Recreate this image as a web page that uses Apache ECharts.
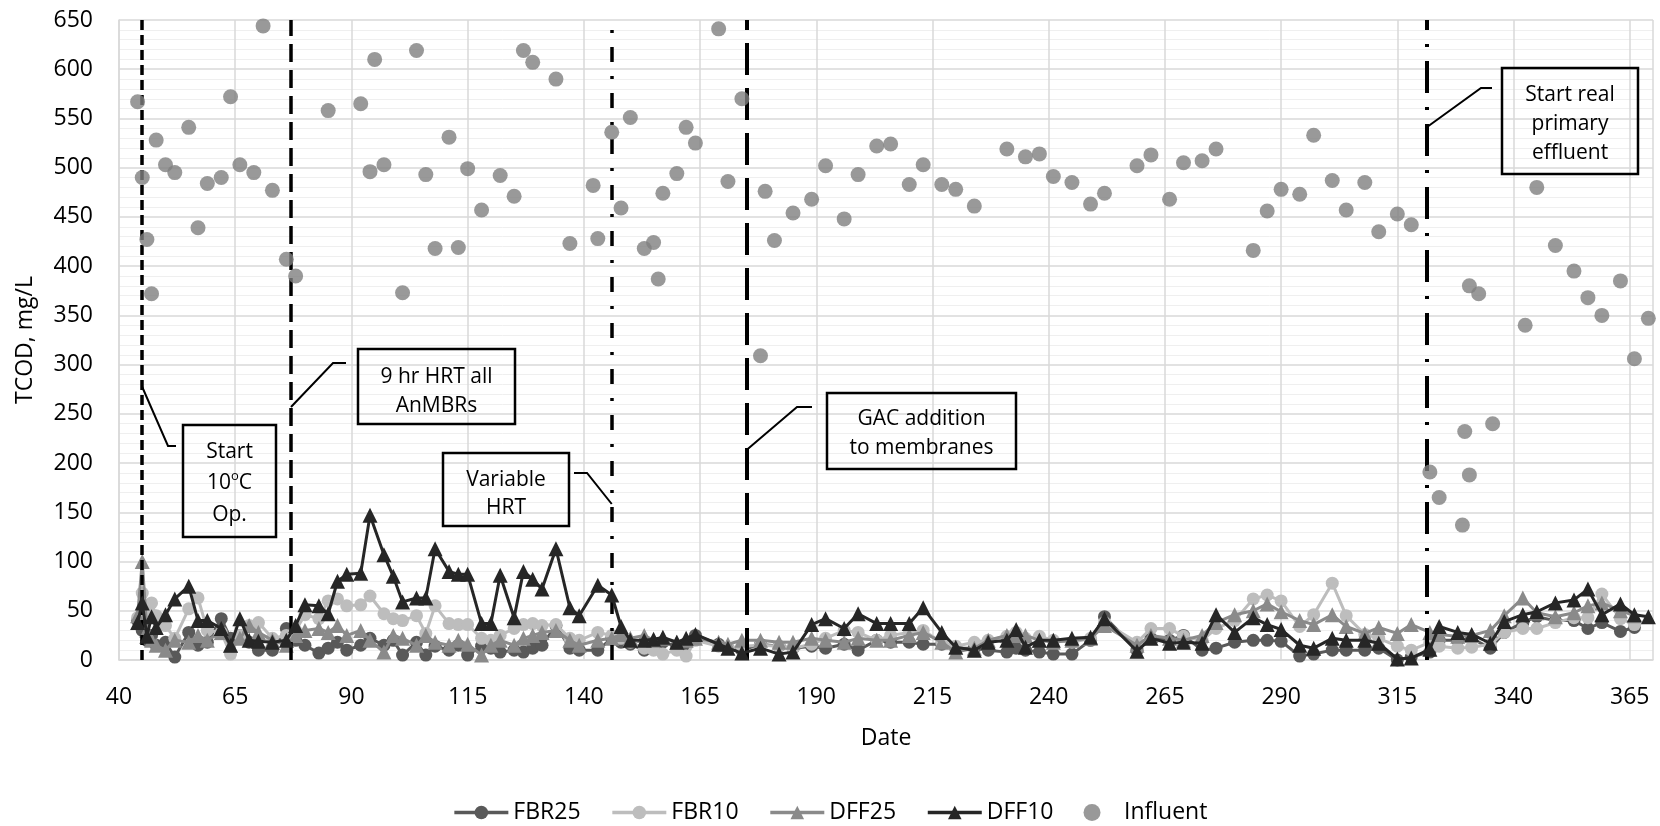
<!DOCTYPE html>
<html><head><meta charset="utf-8">
<script src="https://cdn.jsdelivr.net/npm/echarts@6/dist/echarts.min.js"></script>
<style>html,body{margin:0;padding:0;background:#fff}#c{width:1660px;height:826px}</style>
</head><body><div id="c"></div><script>
const FONT = '"Open Sans", "Liberation Sans", sans-serif';

// ---- data ----
const effluentDays = [
  44, 45, 46, 47, 48, 50, 52, 55, 57, 59,
  62, 64, 66, 68, 70, 73, 76, 78, 80, 83,
  85, 87, 89, 92, 94, 97, 99, 101, 104, 106,
  108, 111, 113, 115, 118, 120, 122, 125, 127, 129,
  131, 134, 137, 139, 143, 146, 148, 150, 153, 155,
  157, 160, 162, 164, 169, 171, 174, 178, 182, 185,
  189, 192, 196, 199, 203, 206, 210, 213, 217, 220,
  224, 227, 231, 233, 235, 238, 241, 245, 249, 252,
  259, 262, 266, 269, 273, 276, 280, 284, 287, 290,
  294, 297, 301, 304, 308, 311, 315, 318, 322, 324,
  328, 331, 335, 338, 342, 345, 349, 353, 356, 359,
  363, 366, 369
];
const fbr25 = [
  40, 30, 20, 25, 15, 18, 3, 28, 15, 18,
  42, 22, 25, 18, 10, 10, 32, 20, 15, 7,
  12, 18, 10, 15, 22, 15, 20, 5, 18, 5,
  14, 10, 15, 5, 14, 12, 8, 10, 8, 12,
  15, 35, 12, 10, 10, 22, 18, 16, 10, 12,
  18, 14, 15, 25, 16, 12, 10, 16, 14, 12,
  14, 12, 16, 10, 20, 18, 18, 16, 16, 12,
  12, 10, 8, 12, 10, 8, 6, 6, 20, 44,
  10, 22, 20, 25, 10, 12, 18, 20, 20, 19,
  4, 6, 10, 10, 10, 12, 0, 3, 8, 20,
  20, 22, 12, 28, 38, 44, 40, 40, 32, 38,
  29, 33, null
];
const fbr10 = [
  43, 68, 50, 58, 45, 35, 22, 52, 63, 30,
  28, 6, 25, 35, 38, 22, 25, 30, 46, 42,
  60, 62, 55, 56, 65, 47, 42, 40, 45, 27,
  55, 37, 36, 36, 22, 20, 25, 32, 36, 37,
  35, 36, 22, 20, 28, 25, 22, 18, 12, 10,
  6, 10, 4, 20, 14, 12, 14, 15, 14, 12,
  16, 22, 30, 28, 20, 25, 28, 30, 18, 14,
  18, 20, 24, 28, 22, 24, 20, 18, 22, 38,
  18, 32, 32, 24, 20, 32, 40, 62, 66, 60,
  34, 46, 78, 45, 26, 22, 14, 10, 18, 14,
  12, 13, 16, 28, 32, 32, 38, 43, 43, 67,
  42, 36, null
];
const dff25 = [
  45, 100, 30, 20, 15, 10, 20, 18, 25, 20,
  28, 15, 22, 35, 28, 20, 15, 25, 30, 32,
  28, 35, 25, 30, 20, 8, 25, 22, 15, 25,
  18, 15, 20, 16, 5, 15, 20, 15, 22, 25,
  28, 30, 20, 15, 20, 22, 26, 22, 25, 20,
  22, 18, 20, 22, 18, 16, 20, 20, 18, 18,
  22, 20, 18, 22, 20, 20, 25, 28, 18, 8,
  12, 20, 25, 25, 25, 20, 18, 20, 22, 35,
  15, 25, 22, 20, 25, 38, 46, 50, 57, 49,
  40, 36, 46, 34, 27, 33, 27, 36, 28, 26,
  24, 25, 30, 45, 63, 48, 44, 48, 55, 58,
  50, 45, null
];
const dff10 = [
  38, 58, 24, 44, 33, 46, 62, 75, 40, 40,
  32, 15, 42, 20, 19, 18, 20, 35, 56, 55,
  47, 80, 87, 88, 147, 107, 85, 59, 63, 63,
  113, 90, 87, 87, 37, 37, 86, 43, 90, 82,
  72, 113, 53, 45, 76, 66, 34, 20, 20, 21,
  23, 18, 22, 26, 16, 12, 7, 12, 6, 8,
  36, 42, 32, 47, 37, 37, 37, 53, 28, 13,
  10, 18, 20, 31, 13, 20, 20, 22, 23, 42,
  9, 22, 17, 18, 17, 46, 28, 43, 36, 31,
  15, 12, 22, 20, 20, 17, 1, 2, 11, 34,
  28, 26, 17, 39, 46, 49, 58, 61, 72, 46,
  57, 46, 44
];
const influentDays = [
  44, 45, 46, 47, 48, 50, 52, 55, 57, 59,
  62, 64, 66, 69, 71, 73, 76, 78, 85, 92,
  94, 95, 97, 101, 104, 106, 108, 111, 113, 115,
  118, 122, 125, 127, 129, 134, 137, 142, 143, 146,
  148, 150, 153, 155, 156, 157, 160, 162, 164, 169,
  171, 174, 178, 179, 181, 185, 189, 192, 196, 199,
  203, 206, 210, 213, 217, 220, 224, 231, 235, 238,
  241, 245, 249, 252, 259, 262, 266, 269, 273, 276,
  284, 287, 290, 294, 297, 301, 304, 308, 311, 315,
  318, 322, 324, 329, 329.5, 330.5, 330.5, 332.5, 335.5, 342.5,
  345, 349, 353, 356, 359, 363, 366, 369
];
const influent = [
  567, 490, 427, 372, 528, 503, 495, 541, 439, 484,
  490, 572, 503, 495, 644, 477, 407, 390, 558, 565,
  496, 610, 503, 373, 619, 493, 418, 531, 419, 499,
  457, 492, 471, 619, 607, 590, 423, 482, 428, 536,
  459, 551, 418, 424, 387, 474, 494, 541, 525, 641,
  486, 570, 309, 476, 426, 454, 468, 502, 448, 493,
  522, 524, 483, 503, 483, 478, 461, 519, 511, 514,
  491, 485, 463, 474, 502, 513, 468, 505, 507, 519,
  416, 456, 478, 473, 533, 487, 457, 485, 435, 453,
  442, 191, 165, 137, 232, 188, 380, 372, 240, 340,
  480, 421, 395, 368, 350, 385, 306, 347
];
const eventDays = [45, 77, 146, 175, 321.4];
const seriesNames = ['FBR25', 'FBR10', 'DFF25', 'DFF10', 'Influent'];

// ---- styles ----
const eventStyles = [
  { width: 3.5, type: [10, 5] },
  { width: 3.5, type: [18, 8] },
  { width: 3.5, type: [15, 14, 3, 14] },
  { width: 4, type: [32, 13] },
  { width: 4, type: [32, 14, 3, 14] }
];
const lineColors = ['#595959', '#bdbdbd', '#8a8a8a', '#262626'];
const lineSymbols = ['circle', 'circle', 'triangle', 'triangle'];
const lineData = [fbr25, fbr10, dff25, dff10];

const chart = echarts.init(document.getElementById('c'), null, { renderer: 'canvas' });

const series = lineData.map((arr, k) => ({
  name: seriesNames[k],
  type: 'line',
  data: effluentDays.map((d, i) => [d, arr[i]]),
  connectNulls: false,
  showAllSymbol: true,
  symbol: lineSymbols[k],
  symbolSize: k < 2 ? 13 : 15,
  color: lineColors[k],
  lineStyle: { color: lineColors[k], width: 3 },
  itemStyle: { color: lineColors[k] },
  emphasis: { disabled: true },
  animation: false,
  z: 2 + k
}));
series.push({
  name: 'Influent',
  type: 'scatter',
  data: influentDays.map((d, i) => [d, influent[i]]),
  symbol: 'circle',
  symbolSize: 15,
  color: '#7f7f7f',
  itemStyle: { color: '#7f7f7f' },
  emphasis: { disabled: true },
  animation: false,
  z: 7,
  markLine: {
    silent: true,
    symbol: ['none', 'none'],
    label: { show: false },
    animation: false,
    emphasis: { disabled: true },
    data: eventDays.map((d, i) => ({
      xAxis: d,
      lineStyle: { color: '#000', width: eventStyles[i].width, type: eventStyles[i].type, cap: 'butt' }
    }))
  }
});

const option = {
  animation: false,
  backgroundColor: '#fff',
  textStyle: { fontFamily: FONT },
  grid: { left: 119, right: 7, top: 20, bottom: 166, containLabel: false },
  xAxis: {
    type: 'value', min: 40, max: 370, interval: 25,
    name: 'Date', nameLocation: 'middle', nameGap: 67,
    nameTextStyle: { fontSize: 23, color: '#000', fontFamily: FONT },
    axisLine: { show: true, lineStyle: { color: '#d9d9d9', width: 1.5 } },
    axisTick: { show: false },
    axisLabel: { fontSize: 23, color: '#000', margin: 26, fontFamily: FONT, showMaxLabel: false },
    splitLine: { show: true, lineStyle: { color: '#d9d9d9', width: 1.5 } }
  },
  yAxis: {
    type: 'value', min: 0, max: 650, interval: 50,
    name: 'TCOD, mg/L', nameLocation: 'middle', nameGap: 82,
    nameTextStyle: { fontSize: 23, color: '#000', fontFamily: FONT },
    axisLine: { show: true, lineStyle: { color: '#d9d9d9', width: 1.5 } },
    axisTick: { show: false },
    axisLabel: { fontSize: 23, color: '#000', margin: 26, fontFamily: FONT },
    splitLine: { show: true, lineStyle: { color: '#d9d9d9', width: 1.5 } },
    minorTick: { show: false, splitNumber: 5 },
    minorSplitLine: { show: true, lineStyle: { color: '#efefef', width: 1 } }
  },
  legend: {
    data: seriesNames,
    left: 'center', top: 796,
    itemWidth: 54, itemHeight: 17, itemGap: 30,
    lineStyle: { width: 3.5 },
    textStyle: { fontSize: 23, color: '#000', fontFamily: FONT },
    selectedMode: false
  },
  series: series
};
chart.setOption(option);

// ---- annotations (boxes + callouts), anchored to the event lines ----
const px = d => chart.convertToPixel({ xAxisIndex: 0 }, d);
const notes = [
  { ev: 0, box: [183, 425, 93, 112], cx: 229.5, lines: [[452, 'Start'], [483, '{n|10}{s|o}{n|C}'], [515, 'Op.']], callout: [[null, 387], [168, 446], [176, 446]] },
  { ev: 1, box: [358, 349, 157, 75], cx: 436.5, lines: [[377, '9 hr HRT all'], [406, 'AnMBRs']], callout: [[null, 407], [333, 363], [346, 363]] },
  { ev: 2, box: [443, 453, 126, 73], cx: 506, lines: [[480, 'Variable'], [508, 'HRT']], callout: [[574, 473], [587, 473], [null, 504]] },
  { ev: 3, box: [827, 393, 189, 76], cx: 921.5, lines: [[419, 'GAC addition'], [448, 'to membranes']], callout: [[null, 450], [797, 407], [812, 407]] },
  { ev: 4, box: [1502, 68, 136, 106], cx: 1570, lines: [[95, 'Start real'], [124, 'primary'], [153, 'effluent']], callout: [[null, 127], [1481, 88], [1492, 88]] }
];
const graphics = [];
notes.forEach(n => {
  const lx = px(eventDays[n.ev]);
  graphics.push({
    type: 'rect', z: 100, silent: true,
    shape: { x: n.box[0], y: n.box[1], width: n.box[2], height: n.box[3] },
    style: { fill: 'none', stroke: '#000', lineWidth: 2.5 }
  });
  graphics.push({
    type: 'polyline', z: 100, silent: true,
    shape: { points: n.callout.map(p => [p[0] === null ? lx : p[0], p[1]]) },
    style: { fill: null, stroke: '#000', lineWidth: 2 }
  });
  n.lines.forEach(l => {
    graphics.push({
      type: 'text', z: 101, silent: true,
      style: {
        x: n.cx, y: l[0], text: l[1],
        fill: '#000', fontSize: 21, fontFamily: FONT,
        align: 'center', verticalAlign: 'middle',
        textAlign: 'center', textVerticalAlign: 'middle',
        rich: {
          n: { fontSize: 21, fontFamily: FONT, fill: '#000', lineHeight: 26 },
          s: { fontSize: 13, fontFamily: FONT, fill: '#000', lineHeight: 14, verticalAlign: 'top' }
        }
      }
    });
  });
});
chart.setOption({ graphic: { elements: graphics } });
</script></body></html>
